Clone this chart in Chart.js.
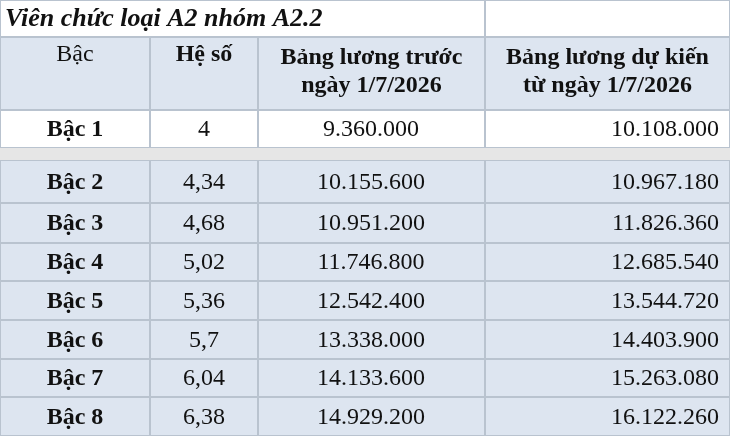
<!DOCTYPE html>
<html><head><meta charset="utf-8">
<script src="https://cdn.jsdelivr.net/npm/chart.js@4"></script>
<style>html,body{margin:0;padding:0;background:#fff}#wrap{width:730px;height:436px}</style>
</head><body><div id="wrap"><canvas id="tbl"></canvas></div>
<script>
const title = "Viên chức loại A2 nhóm A2.2";
const headers = ["Bậc", "Hệ số", "Bảng lương trước\nngày 1/7/2026", "Bảng lương dự kiến\ntừ ngày 1/7/2026"];
const levels = ["Bậc 1", "Bậc 2", "Bậc 3", "Bậc 4", "Bậc 5", "Bậc 6", "Bậc 7", "Bậc 8"];
const coefficients = ["4", "4,34", "4,68", "5,02", "5,36", "5,7", "6,04", "6,38"];
const salaryBefore = [9360000, 10155600, 10951200, 11746800, 12542400, 13338000, 14133600, 14929200];
const salaryAfter = [10108000, 10967180, 11826360, 12685540, 13544720, 14403900, 15263080, 16122260];

const colX = [0, 150, 258, 485, 730];
const fmt = v => String(v).replace(/\B(?=(\d{3})+(?!\d))/g, ".");
const FONT = '"Liberation Serif", "DejaVu Serif", serif';

const tablePlugin = {
  id: "table",
  afterDraw(chart) {
    const c = chart.ctx;
    c.save();
    c.textBaseline = "middle";
    function cell(x0, x1, y0, y1, fill) {
      c.fillStyle = fill;
      c.fillRect(x0, y0, x1 - x0, y1 - y0);
      c.strokeStyle = "#b9c3cf";
      c.lineWidth = 1;
      c.strokeRect(x0 + 0.5, y0 + 0.5, x1 - x0 - 1, y1 - y0 - 1);
    }
    // title row
    cell(0, 485, 0, 37, "#ffffff");
    cell(485, 730, 0, 37, "#ffffff");
    c.fillStyle = "#111";
    c.font = "italic bold 26px " + FONT;
    c.textAlign = "left";
    c.fillText(title, 5, 19);
    // header
    for (let i = 0; i < 4; i++) {
      cell(colX[i], colX[i + 1], 37, 110, "#dde5f0");
      const lines = headers[i].split("\n");
      c.font = (i === 0 ? "" : "bold ") + "24px " + FONT;
      c.fillStyle = "#111";
      c.textAlign = "center";
      const cx = (colX[i] + colX[i + 1]) / 2;
      if (lines.length === 1) c.fillText(lines[0], cx, 55);
      else lines.forEach((l, k) => c.fillText(l, cx, 58 + k * 28));
    }
    // rows
    const rowsY = [[110, 148], [160, 203], [203, 243], [243, 281], [281, 320], [320, 359], [359, 397], [397, 436]];
    c.fillStyle = "#e6e6e6";
    c.fillRect(0, 148, 730, 12);
    levels.forEach((lv, r) => {
      const [y0, y1] = rowsY[r];
      const fill = r === 0 ? "#ffffff" : "#dde5f0";
      for (let i = 0; i < 4; i++) cell(colX[i], colX[i + 1], y0, y1, fill);
      const ym = (y0 + y1) / 2 + 1;
      c.fillStyle = "#111";
      c.font = "bold 24px " + FONT;
      c.textAlign = "center";
      c.fillText(lv, 75, ym);
      c.font = "24px " + FONT;
      c.fillText(coefficients[r], 204, ym);
      c.fillText(fmt(salaryBefore[r]), 371, ym);
      c.textAlign = "right";
      c.fillText(fmt(salaryAfter[r]), 719, ym);
    });
    c.restore();
  }
};

new Chart(document.getElementById("tbl"), {
  type: "bar",
  data: { labels: levels, datasets: [{ data: salaryAfter, backgroundColor: "rgba(0,0,0,0)" }] },
  options: {
    responsive: true, maintainAspectRatio: false, animation: false,
    layout: { padding: 0 },
    plugins: { legend: { display: false }, tooltip: { enabled: false } },
    scales: { x: { display: false }, y: { display: false } }
  },
  plugins: [tablePlugin]
});
</script></body></html>
